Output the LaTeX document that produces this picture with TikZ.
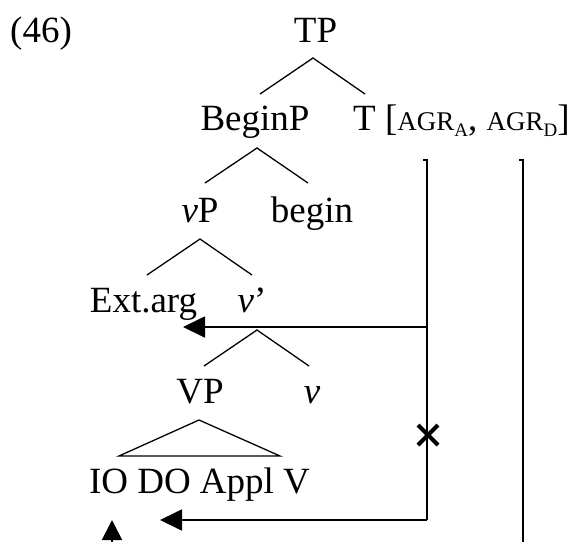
\documentclass[tikz,border=0pt]{standalone}
\usepackage{fontspec}
\setmainfont{Liberation Serif}
\usetikzlibrary{arrows.meta}
\newcommand\agrsub[1]{{\fontsize{27}{30}\selectfont AGR}\raisebox{-6pt}{\fontsize{19}{20}\selectfont #1}}
\tikzset{
  lbl/.style={inner sep=0pt, anchor=base, font=\fontsize{37}{44}\selectfont},
  branch/.style={line width=1.3pt},
  agrline/.style={line width=1.8pt},
  agrarrow/.style={line width=1.8pt, -{Triangle[length=22pt,width=21pt]}},
  cross/.style={line width=4pt}
}
\begin{document}
\begin{tikzpicture}[x=1pt,y=-1pt]
\useasboundingbox (0,0) rectangle (579,542);

% labels
\node[lbl, anchor=base west] (num) at (10,42) {(46)};
\node[lbl] (TP) at (315.5,42) {TP};
\node[lbl] (BeginP) at (255,130) {BeginP};
\node[lbl, anchor=base west] (T) at (353,130) {T [\agrsub{A}, \agrsub{D}]};
\node[lbl] (vP) at (200,222) {\textit{v}P};
\node[lbl] (begin) at (312,222) {begin};
\node[lbl] (ext) at (143.5,312) {Ext.arg};
\node[lbl] (vbar) at (252,312) {\textit{v}’};
\node[lbl] (VP) at (200,403) {VP};
\node[lbl] (v) at (312,403) {\textit{v}};
\node[lbl] (IO) at (199.5,493) {IO DO Appl V};

% branch points
\coordinate (tp-a) at (313,58);   \coordinate (tp-l) at (260,94);  \coordinate (tp-r) at (365,94);
\coordinate (bp-a) at (257,148);  \coordinate (bp-l) at (205,183); \coordinate (bp-r) at (308,183);
\coordinate (vp-a) at (200,239);  \coordinate (vp-l) at (147,275); \coordinate (vp-r) at (252,275);
\coordinate (vb-a) at (257,330);  \coordinate (vb-l) at (204,366); \coordinate (vb-r) at (309,366);
\coordinate (tri-a) at (199,420); \coordinate (tri-l) at (119,456); \coordinate (tri-r) at (280,456);

\draw[branch] (tp-l) -- (tp-a) -- (tp-r);
\draw[branch] (bp-l) -- (bp-a) -- (bp-r);
\draw[branch] (vp-l) -- (vp-a) -- (vp-r);
\draw[branch] (vb-l) -- (vb-a) -- (vb-r);
\draw[branch] (tri-l) -- (tri-a) -- (tri-r) -- cycle;

% agreement probes
\coordinate (agrA-top) at (427,160);
\coordinate (agrA-tick) at (423,160);
\coordinate (agrA-mid) at (427,327);
\coordinate (agrA-bot) at (427,520);
\coordinate (ext-goal) at (183,327);
\coordinate (io-goal) at (160,520);
\coordinate (agrD-top) at (523,160);
\coordinate (agrD-tick) at (519,160);
\coordinate (agrD-bot) at (523,542);
\coordinate (up-tail) at (112,542);
\coordinate (up-tip) at (112,520);
\coordinate (block) at (428,435);

\draw[agrline] (agrA-tick) -- (agrA-top) -- (agrA-bot);
\draw[agrarrow] (agrA-mid) -- (ext-goal);
\draw[agrarrow] (agrA-bot) -- (io-goal);
\draw[agrline] (agrD-tick) -- (agrD-top) -- (agrD-bot);
\draw[line width=1.8pt, -{Triangle[length=20pt,width=20pt]}] (up-tail) -- (up-tip);

% blocked path
\draw[cross] ([shift={(-10,-10)}]block) -- ([shift={(10,10)}]block);
\draw[cross] ([shift={(-10,10)}]block) -- ([shift={(10,-10)}]block);
\end{tikzpicture}
\end{document}
